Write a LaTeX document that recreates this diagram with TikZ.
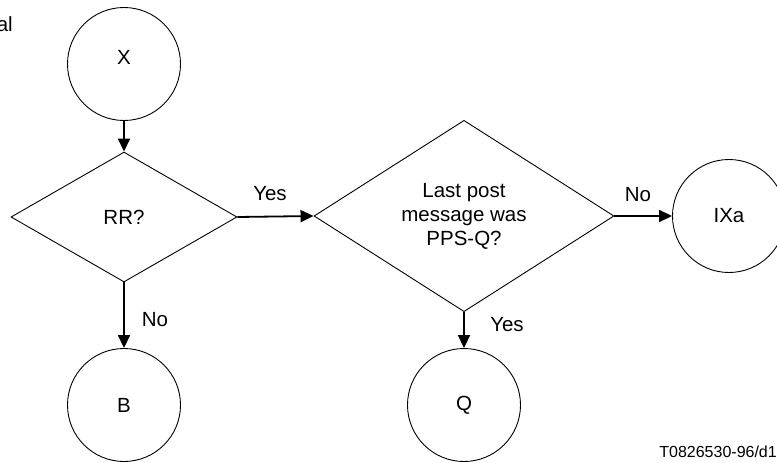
\documentclass[tikz,border=0pt]{standalone}
\usepackage{fontspec}
\setmainfont{Liberation Sans}
\usetikzlibrary{shapes.geometric,arrows.meta}
\begin{document}
\begin{tikzpicture}[x=1pt,y=-1pt,
  every node/.style={font=\fontsize{20.5}{24}\selectfont},
  term/.style={circle,draw,line width=0.9pt,minimum size=113pt,inner sep=0pt},
  decide/.style={diamond,draw,line width=0.9pt,inner sep=0pt,align=center},
  flow/.style={line width=1.8pt,-{Triangle[length=13pt,width=12pt]}},
  lbl/.style={inner sep=0pt}]
\path[use as bounding box,clip] (0,0) rectangle (777,463);
\node[term] (X) at (124,64) {};
\node[lbl] (Xt) at (124,57.5) {X};
\node[decide,minimum width=226pt,minimum height=130pt] (RR) at (124,217) {RR?};
\node[decide,minimum width=300pt,minimum height=176pt] (LP) at (464,216) {Last post\\message was\\PPS-Q?};
\node[term] (IXa) at (729,216) {IXa};
\node[term] (B) at (124,405) {B};
\node[term] (Q) at (464,405) {Q};
\draw[flow] (X.south) -- (RR.north);
\draw[flow] (RR.east) -- (LP.west);
\draw[flow] (LP.east) -- (IXa.west);
\draw[flow] (RR.south) -- (B.north);
\draw[flow] (LP.south) -- (Q.north);
\node[lbl] (yes1) at (270,194) {Yes};
\node[lbl] (no1) at (638,195) {No};
\node[lbl] (no2) at (155,320) {No};
\node[lbl] (yes2) at (507,325) {Yes};
\node[lbl,anchor=base east] (al) at (13,31) {al};
\node[lbl,anchor=base east,font=\fontsize{16}{19}\selectfont] (tag) at (777,457) {T0826530-96/d1};
\end{tikzpicture}
\end{document}
